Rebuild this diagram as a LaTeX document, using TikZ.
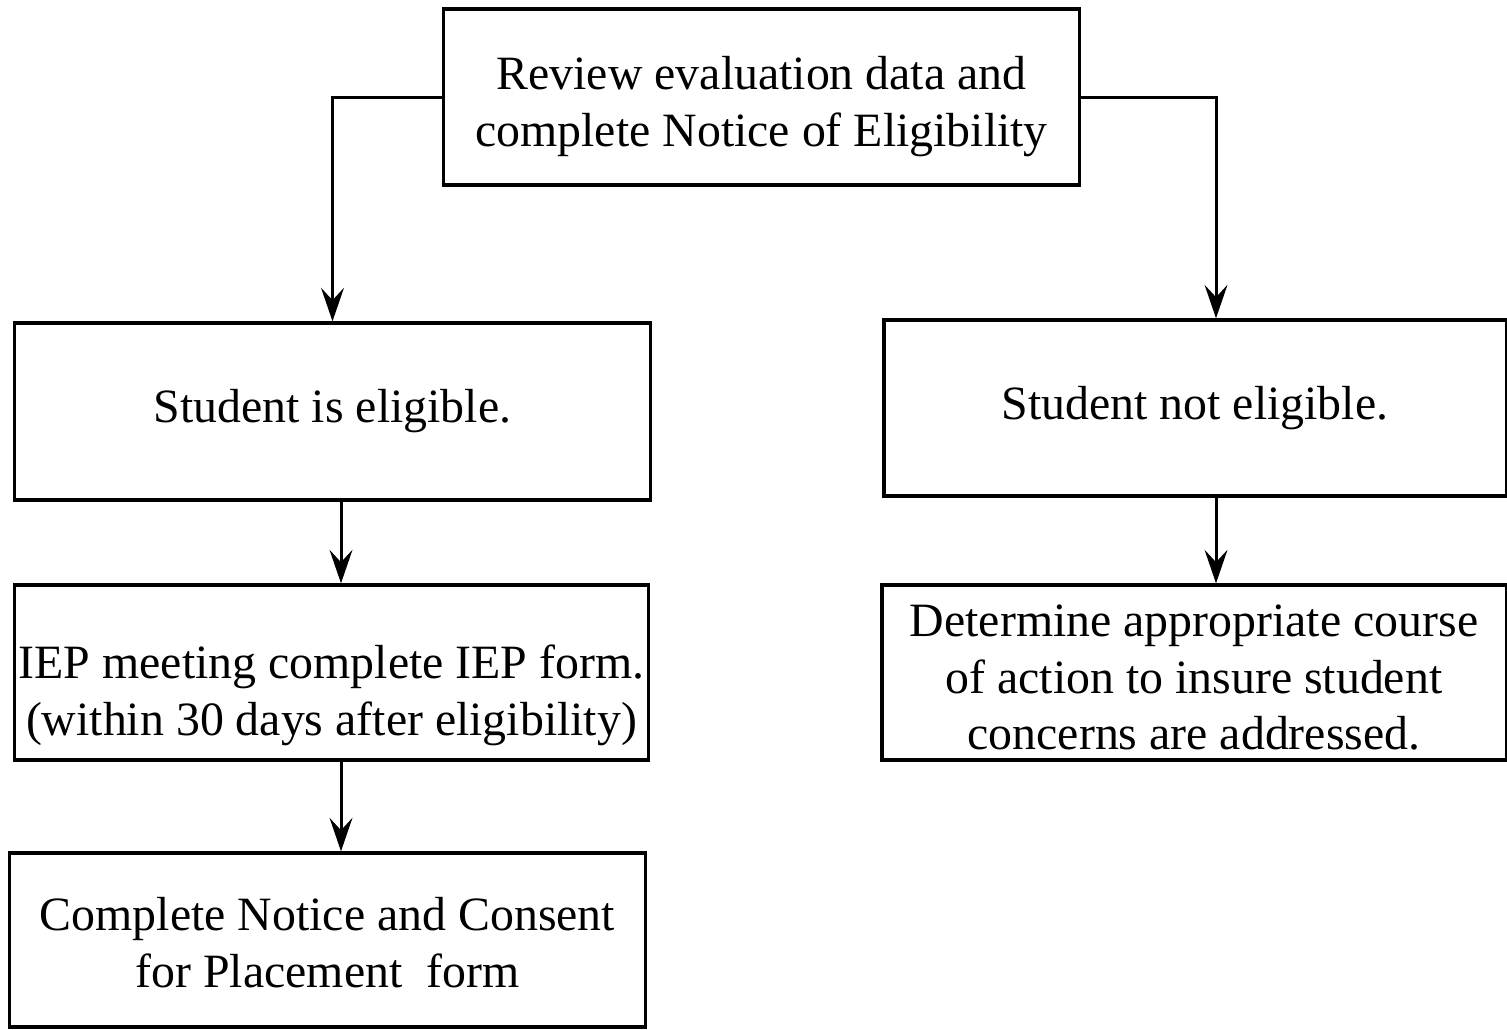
\documentclass[tikz,border=0pt]{standalone}
\usepackage{fontspec}
\setmainfont{Liberation Serif}
\usetikzlibrary{arrows.meta}

\tikzset{
  stepbox/.style={draw, line width=0.95pt, align=center, inner sep=0pt,
    font=\fontsize{13.6}{16.2}\selectfont},
  steptext/.style={align=center, inner sep=0pt,
    font=\fontsize{13.6}{16.2}\selectfont},
  flow/.style={line width=0.85pt, -{Stealth[length=9.5pt,width=6.5pt,inset=3.5pt]}},
}

\begin{document}
\begin{tikzpicture}[x=0.01cm, y=-0.01cm]
\useasboundingbox (0,0) rectangle (1507,1029);
\node [stepbox, minimum width=6.35cm, minimum height=1.76cm] (review) at (761.5,97) {};
\node [steptext] (reviewText) at ([yshift=-0.1cm]review.center)
  {Review evaluation data and\\complete Notice of Eligibility};
\node [stepbox, minimum width=6.35cm, minimum height=1.77cm] (elig) at (332.5,411.5)
  {Student is eligible.};
\node [stepbox, minimum width=6.22cm, minimum height=1.76cm] (noelig) at (1195,408)
  {Student not eligible.};
\node [stepbox, minimum width=6.33cm, minimum height=1.75cm] (iep) at (331.5,672.5) {};
\node [steptext] (iepText) at ([yshift=-0.23cm]iep.center)
  {IEP meeting complete IEP form.\\(within 30 days after eligibility)};
\node [stepbox, minimum width=6.35cm, minimum height=1.74cm] (place) at (327.5,940) {};
\node [steptext] (placeText) at ([yshift=-0.03cm]place.center)
  {Complete Notice and Consent\\for Placement~ form};
\node [stepbox, minimum width=6.24cm, minimum height=1.75cm] (action) at (1194,672.5) {};
\node [steptext] (actionText) at ([yshift=-0.05cm]action.center)
  {Determine appropriate course\\of action to insure student\\concerns are addressed.};
\coordinate (lx) at (341,0);
\coordinate (rx) at (1216,0);
\draw [flow] (review.west) -| (elig.north);
\draw [flow] (review.east) -| (rx |- noelig.north);
\draw [flow] (lx |- elig.south) -- (lx |- iep.north);
\draw [flow] (lx |- iep.south) -- (lx |- place.north);
\draw [flow] (rx |- noelig.south) -- (rx |- action.north);

% eligible branch on the left, not eligible on the right

\end{tikzpicture}
\end{document}
